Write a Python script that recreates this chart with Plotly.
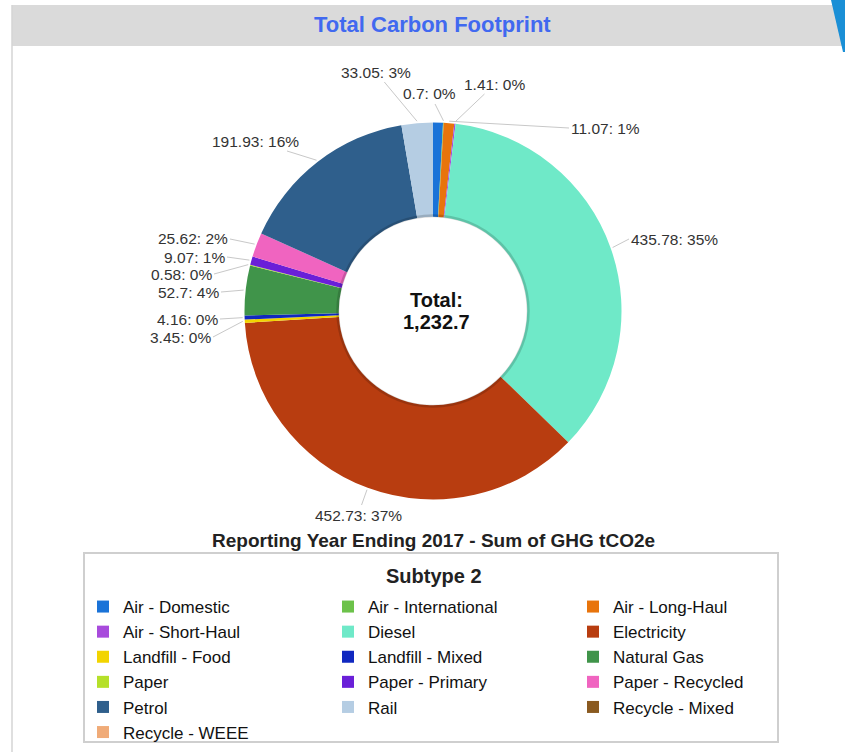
import math
import plotly.graph_objects as go

W, H = 845, 752

categories = ["Air - Domestic", "Air - International", "Air - Long-Haul", "Air - Short-Haul",
              "Diesel", "Electricity", "Landfill - Food", "Landfill - Mixed", "Natural Gas",
              "Paper", "Paper - Primary", "Paper - Recycled", "Petrol", "Rail",
              "Recycle - Mixed", "Recycle - WEEE"]
values = [10.45, 0.7, 11.07, 1.41,
          435.78, 452.73, 3.45, 4.16, 52.7,
          0.58, 9.07, 25.62, 191.93, 33.05,
          0, 0]
colors = ["#1a73d8", "#6cc24a", "#e8740c", "#a84bdc",
          "#6fe9c8", "#b83d10", "#f2d400", "#1028c0", "#40944a",
          "#b5e02a", "#6a1fd8", "#f064c0", "#2f5f8c", "#b5cde3",
          "#8a5a20", "#f0ab78"]

title_text = "Total Carbon Footprint"
subtitle_text = "Reporting Year Ending 2017 - Sum of GHG tCO2e"
legend_title = "Subtype 2"

FONT = "Liberation Sans, Arial, sans-serif"

# label placement (text tail positions in px, anchor side)
label_pos = {
    "Rail": (376, 72, "center"),
    "Air - International": (430, 94, "center"),
    "Air - Short-Haul": (495, 84, "center"),
    "Air - Long-Haul": (569, 128, "left"),
    "Diesel": (629, 239, "left"),
    "Electricity": (358, 515, "center"),
    "Landfill - Food": (213, 337, "right"),
    "Landfill - Mixed": (220, 319, "right"),
    "Natural Gas": (221, 292, "right"),
    "Paper": (214, 274, "right"),
    "Paper - Primary": (227, 257, "right"),
    "Paper - Recycled": (230, 239, "right"),
    "Petrol": (255, 141, "center"),
}

# pie geometry (pixels)
CX, CY, R = 433, 311, 188.5
HOLE = 0.5


def px(x):
    return x / W


def py(y):
    return 1 - y / H


total = sum(values)

fig = go.Figure()
fig.add_trace(go.Pie(
    labels=categories, values=values, marker=dict(colors=colors, line=dict(width=0)),
    hole=HOLE, sort=False, direction="clockwise", rotation=0,
    textinfo="none", hoverinfo="label+value+percent",
    domain=dict(x=[px(CX - R), px(CX + R)], y=[py(CY + R), py(CY - R)]),
    showlegend=True,
))

shapes = []
annotations = []

# title band
shapes.append(dict(type="rect", xref="paper", yref="paper", x0=px(12), x1=1.0, y0=py(46), y1=py(5),
                   fillcolor="#dadada", line=dict(width=0), layer="below"))
shapes.append(dict(type="line", xref="paper", yref="paper", x0=px(12), x1=px(12), y0=0, y1=py(5),
                   line=dict(color="#d4d4d4", width=1.5), layer="below"))
shapes.append(dict(type="path", xref="paper", yref="paper",
                   path=f"M {px(831)} {py(0)} L {px(845)} {py(0)} L {px(845)} {py(52)} L {px(843)} {py(52)} Z",
                   fillcolor="#1a8fd6", line=dict(width=0)))
annotations.append(dict(text=f"<b>{title_text}</b>", x=px(432), y=py(25), xref="paper", yref="paper",
                        showarrow=False, font=dict(family=FONT, size=22, color="#4169f0"),
                        xanchor="center", yanchor="middle"))

# hole shadow ring
hr = R * HOLE
shapes.append(dict(type="circle", xref="paper", yref="paper",
                   x0=px(CX - hr - 1), x1=px(CX + hr + 1), y0=py(CY + hr + 1), y1=py(CY - hr - 1),
                   line=dict(color="rgba(0,0,0,0.16)", width=3)))

# center total
annotations.append(dict(text="<b>Total:</b>", x=px(CX + 3), y=py(CY - 11), xref="paper", yref="paper",
                        showarrow=False, font=dict(family=FONT, size=20, color="#111"),
                        xanchor="center", yanchor="middle"))
annotations.append(dict(text=f"<b>{total:,.1f}</b>", x=px(CX + 3), y=py(CY + 11), xref="paper", yref="paper",
                        showarrow=False, font=dict(family=FONT, size=20, color="#111"),
                        xanchor="center", yanchor="middle"))

# data labels with leader lines
cum = 0.0
for cat, v in zip(categories, values):
    mid = cum + v / 2
    cum += v
    if cat not in label_pos:
        continue
    theta = 2 * math.pi * mid / total
    hx = CX + (R + 2) * math.sin(theta)
    hy = CY - (R + 2) * math.cos(theta)
    tx, ty, anc = label_pos[cat]
    pct = round(v / total * 100)
    annotations.append(dict(
        text=f"{v:g}: {pct}%", x=px(hx), y=py(hy), xref="paper", yref="paper",
        ax=tx - hx, ay=ty - hy, axref="pixel", ayref="pixel",
        showarrow=True, arrowhead=0, arrowwidth=1, arrowcolor="#c8c8c8",
        xanchor=anc, yanchor="middle",
        font=dict(family=FONT, size=15.5, color="#333")))

# subtitle
annotations.append(dict(text=f"<b>{subtitle_text}</b>", x=px(433), y=py(540), xref="paper", yref="paper",
                        showarrow=False, font=dict(family=FONT, size=19, color="#222"),
                        xanchor="center", yanchor="middle"))

# legend box + title
shapes.append(dict(type="rect", xref="paper", yref="paper", x0=px(84), x1=px(778), y0=py(742), y1=py(553),
                   line=dict(color="#cfcfcf", width=2), fillcolor="rgba(0,0,0,0)"))
annotations.append(dict(text=f"<b>{legend_title}</b>", x=px(434), y=py(576), xref="paper", yref="paper",
                        showarrow=False, font=dict(family=FONT, size=20, color="#222"),
                        xanchor="center", yanchor="middle"))

fig.update_layout(
    width=W, height=H,
    margin=dict(l=0, r=0, t=0, b=0),
    paper_bgcolor="white", plot_bgcolor="white",
    font=dict(family=FONT, color="#222"),
    shapes=shapes, annotations=annotations,
    legend=dict(orientation="h", x=px(83), y=py(589), xanchor="left", yanchor="top",
                font=dict(family=FONT, size=17, color="#111"),
                entrywidth=200, entrywidthmode="pixels",
                bgcolor="rgba(0,0,0,0)", borderwidth=0, traceorder="normal"),
)

fig.write_html("out.html", config={"displayModeBar": False},
               post_script="document.body.style.margin='0';document.body.style.overflow='hidden';")
